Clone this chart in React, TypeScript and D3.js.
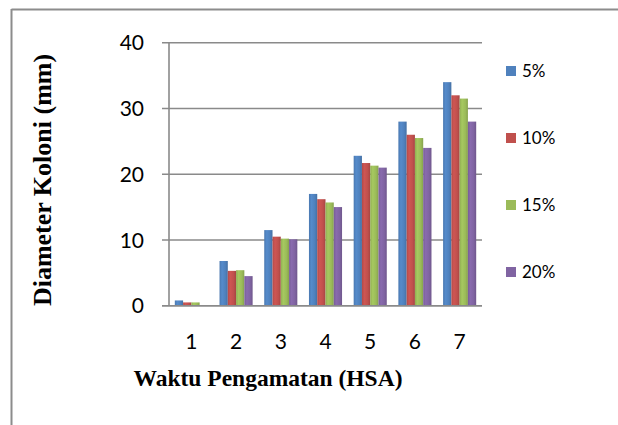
import React from "react";
import * as d3 from "d3";

// Observation day (HSA) on the x axis
const categories = ["1", "2", "3", "4", "5", "6", "7"];
const seriesNames = ["5%", "10%", "15%", "20%"];
// Colony diameter (mm) per concentration
const values5 = [0.8, 6.8, 11.5, 17.0, 22.8, 28.0, 34.0];
const values10 = [0.5, 5.3, 10.5, 16.2, 21.7, 26.0, 32.0];
const values15 = [0.5, 5.4, 10.2, 15.7, 21.3, 25.5, 31.5];
const values20 = [0, 4.5, 10.1, 15.0, 21.0, 24.0, 28.0];
const yTicks = [0, 10, 20, 30, 40];

const seriesValues = [values5, values10, values15, values20];
const colors = ["#4F81BD", "#C0504D", "#9BBB59", "#8064A2"];

const W = 618;
const H = 425;
const plot = { left: 169, right: 482, top: 42.7, bottom: 305.7 };
const gridColor = "#8a8a8a";
const tickFont = "Lato, 'Open Sans', sans-serif";
const titleFont = "'Liberation Serif', 'Times New Roman', serif";

export default function App() {
  const x = d3
    .scaleBand<string>()
    .domain(categories)
    .range([plot.left, plot.right])
    .paddingInner(0.26)
    .paddingOuter(0.13);
  const xs = d3
    .scaleBand<string>()
    .domain(seriesNames)
    .range([0, x.bandwidth()]);
  const y = d3.scaleLinear().domain([0, 40]).range([plot.bottom, plot.top]);

  const legendY = [71, 138, 205, 272];

  return (
    <svg
      width={W}
      height={H}
      style={{ position: "absolute", left: 0, top: 0, background: "#fff" }}
    >
      <defs>
        {colors.map((c, i) => (
          <linearGradient key={i} id={`bar-grad-${i}`} x1="0" x2="1" y1="0" y2="0">
            <stop offset="0" stopColor={d3.color(c)!.darker(0.2).formatHex()} />
            <stop offset="0.3" stopColor={d3.color(c)!.brighter(0.2).formatHex()} />
            <stop offset="0.7" stopColor={c} />
            <stop offset="1" stopColor={d3.color(c)!.darker(0.4).formatHex()} />
          </linearGradient>
        ))}
      </defs>

      {/* frame */}
      <line x1={11.5} x2={W} y1={9.5} y2={9.5} stroke="#8c8c8c" strokeWidth={2} />
      <line x1={11.5} x2={11.5} y1={9} y2={H} stroke="#8c8c8c" strokeWidth={2} />

      {/* gridlines and y ticks */}
      {yTicks.map((t) => (
        <g key={t}>
          <line
            x1={plot.left - 7}
            x2={plot.right}
            y1={y(t)}
            y2={y(t)}
            stroke={gridColor}
            strokeWidth={1.6}
          />
          <text
            x={144}
            y={y(t)}
            dy="0.36em"
            textAnchor="end"
            fontFamily={tickFont}
            fontSize={21}
            fill="#000"
          >
            {t}
          </text>
        </g>
      ))}
      <line
        x1={plot.left}
        x2={plot.left}
        y1={plot.top}
        y2={plot.bottom}
        stroke={gridColor}
        strokeWidth={1.6}
      />

      {/* bars */}
      {seriesValues.map((vals, si) =>
        vals.map((v, ci) =>
          v > 0 ? (
            <rect
              key={`${si}-${ci}`}
              x={(x(categories[ci]) ?? 0) + (xs(seriesNames[si]) ?? 0)}
              y={y(v)}
              width={xs.bandwidth()}
              height={y(0) - y(v)}
              fill={`url(#bar-grad-${si})`}
            />
          ) : null
        )
      )}
      <line
        x1={plot.left - 7}
        x2={plot.right}
        y1={y(0)}
        y2={y(0)}
        stroke={gridColor}
        strokeWidth={1.6}
      />

      {/* category labels */}
      {categories.map((c) => (
        <text
          key={c}
          x={(x(c) ?? 0) + x.bandwidth() / 2}
          y={349}
          textAnchor="middle"
          fontFamily={tickFont}
          fontSize={21}
          fill="#000"
        >
          {c}
        </text>
      ))}

      {/* axis titles */}
      <text
        x={268}
        y={386}
        textAnchor="middle"
        fontFamily={titleFont}
        fontWeight="bold"
        fontSize={23.5}
        fill="#000"
      >
        Waktu Pengamatan (HSA)
      </text>
      <text
        transform="translate(51,180) rotate(-90)"
        textAnchor="middle"
        fontFamily={titleFont}
        fontWeight="bold"
        fontSize={26}
        fill="#000"
      >
        Diameter Koloni (mm)
      </text>

      {/* legend */}
      {seriesNames.map((s, i) => (
        <g key={s}>
          <rect x={506} y={legendY[i] - 5} width={10} height={10} fill={colors[i]} />
          <text
            x={522}
            y={legendY[i]}
            dy="0.36em"
            fontFamily={tickFont}
            fontSize={17}
            fill="#000"
          >
            {s}
          </text>
        </g>
      ))}
    </svg>
  );
}
